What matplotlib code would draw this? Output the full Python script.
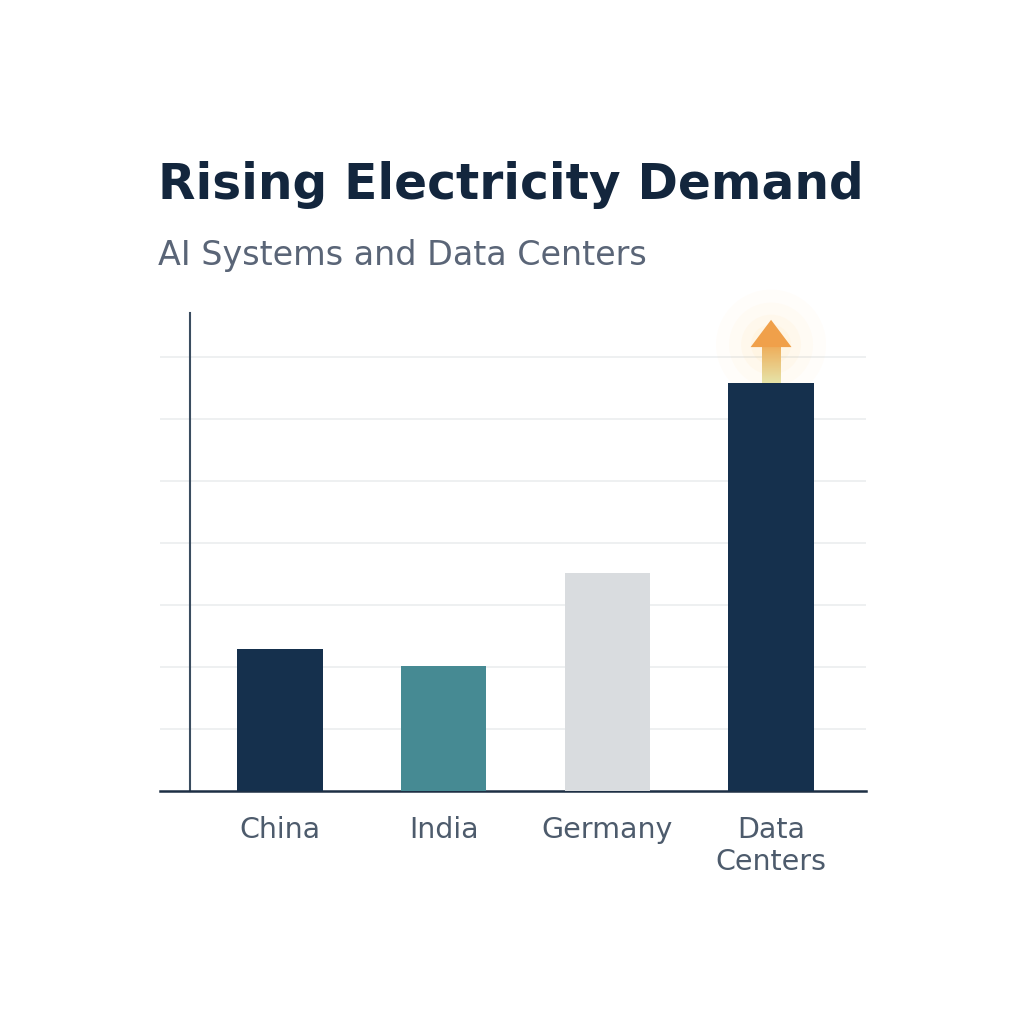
import matplotlib.pyplot as plt
import numpy as np
from matplotlib.patches import Ellipse
from matplotlib.colors import LinearSegmentedColormap

categories = ["China", "India", "Germany", "Data\nCenters"]
values = [2.29, 2.02, 3.52, 6.58]
colors = ["#15304d", "#468a93", "#d9dcdf", "#15304d"]

fig = plt.figure(figsize=(10.24, 10.24), dpi=100)
ax = fig.add_axes([160 / 1024, 1 - 791 / 1024, 706 / 1024, 478 / 1024])

x = np.arange(len(categories))
ax.bar(x, values, width=0.52, color=colors, zorder=3)

ax.set_xlim(-0.733, 3.58)
ax.set_ylim(0, 7.71)
ax.set_yticks(np.arange(1, 8))
ax.yaxis.grid(True, color="#ebedef", linewidth=1.2, zorder=0)
ax.tick_params(axis="y", length=0, labelleft=False)
ax.tick_params(axis="x", length=0, pad=18, labelsize=20.5, labelcolor="#4d5b6c")
ax.set_xticks(x)
ax.set_xticklabels(categories, linespacing=1.2)

for s in ["top", "right"]:
    ax.spines[s].set_visible(False)
ax.spines["left"].set_position(("data", -0.55))
ax.spines["left"].set_color("#3b4d60")
ax.spines["left"].set_linewidth(1.5)
ax.spines["bottom"].set_color("#1d2f44")
ax.spines["bottom"].set_linewidth(1.8)

# glow behind arrow (units: 163.7 px per x, 62 px per y)
top = values[3]
for r, a in [(55, 0.035), (42, 0.045), (30, 0.06), (20, 0.07)]:
    ax.add_patch(Ellipse((x[3], top + 0.62), 2 * r / 163.7, 2 * r / 62,
                         color="#ffd27a", alpha=a, lw=0, zorder=2, clip_on=False))

# arrow shaft with gradient
grad = np.linspace(0, 1, 50).reshape(-1, 1)
cmap = LinearSegmentedColormap.from_list("g", ["#e6e3a8", "#f0a24a"])
ax.imshow(grad, extent=(x[3] - 0.055, x[3] + 0.055, top, top + 0.72),
          origin="lower", cmap=cmap, aspect="auto", zorder=4)
ax.add_patch(plt.Polygon([(x[3] - 0.125, top + 0.58), (x[3] + 0.125, top + 0.58),
                          (x[3], top + 1.02)], color="#f0a04a", lw=0, zorder=5))
ax.set_xlim(-0.733, 3.58)
ax.set_ylim(0, 7.71)

fig.text(158 / 1024, 1 - 185 / 1024, "Rising Electricity Demand", fontsize=35,
         fontweight="bold", color="#13263d", va="center", ha="left")
fig.text(158 / 1024, 1 - 255 / 1024, "AI Systems and Data Centers", fontsize=24,
         color="#5a6577", va="center", ha="left")

fig.savefig("out.png", dpi=100, facecolor="white")
